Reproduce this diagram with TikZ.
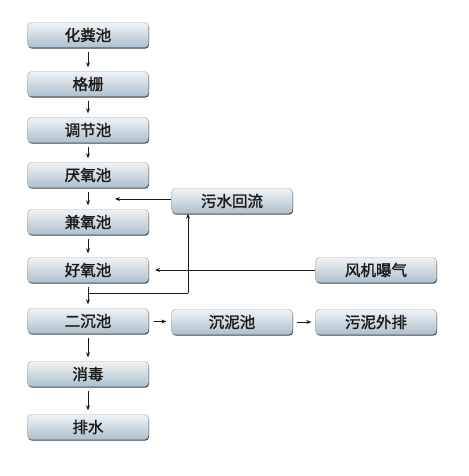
\documentclass[tikz,border=0pt]{standalone}
\usepackage{fontspec}
\newfontfamily\cjk[FakeBold=1.6]{Noto Sans CJK SC}
\usetikzlibrary{arrows.meta, shadows}

\definecolor{tanktop}{RGB}{240,243,246}
\definecolor{tankbot}{RGB}{172,192,206}
\tikzset{
  tank/.style={rounded corners=4pt, minimum width=121pt, minimum height=25pt,
    top color=tanktop, bottom color=tankbot, draw=gray!70, line width=0.4pt,
    drop shadow={shadow xshift=0.6pt, shadow yshift=-1.2pt, fill=black!75, opacity=1},
    font=\cjk\fontsize{15.5}{17}\selectfont, text=black!90, inner sep=0pt},
  flow/.style={-{Stealth[length=5pt, width=4pt]}, line width=0.7pt, black!90}
}

\begin{document}
\begin{tikzpicture}[x=1pt, y=-1pt]
  \useasboundingbox (0,0) rectangle (468,476);
  % left column
  \foreach \n/\t/\y in {hfc/化粪池/35, gs/格栅/84, tjc/调节池/130, yyc/厌氧池/175,
      jyc/兼氧池/222, hyc/好氧池/270, ecc/二沉池/321, xd/消毒/374, ps/排水/427}{
    \node[tank] (\n) at (88,\y) {\t};
  }
  \foreach \a/\b in {hfc/gs, gs/tjc, tjc/yyc, yyc/jyc, jyc/hyc, hyc/ecc, ecc/xd, xd/ps}{
    \draw[flow, shorten <=4pt, shorten >=4pt] (\a) -- (\b);
  }
  % side tanks
  \node[tank] (wshl) at (232,201) {污水回流};
  \node[tank] (fjpq) at (376,270) {风机曝气};
  \node[tank] (cnc) at (232,322) {沉泥池};
  \node[tank] (wnwp) at (376,322) {污泥外排};
  \coordinate (hl) at (115,199);
  \coordinate (bq) at (155,270);
  \coordinate (fz) at (88,293);
  \coordinate (fr) at (188,293);
  \draw[flow] (wshl.west |- hl) -- (hl);
  \draw[flow] (fjpq.west) -- (bq);
  \draw[line width=0.7pt, black!90] (fz) -- (fr);
  \draw[flow] (fr) -- (fr |- wshl.south);
  \draw[flow, shorten <=5pt, shorten >=5pt] (ecc) -- (cnc);
  \draw[flow, shorten <=4pt, shorten >=4pt] (cnc) -- (wnwp);
\end{tikzpicture}
\end{document}
